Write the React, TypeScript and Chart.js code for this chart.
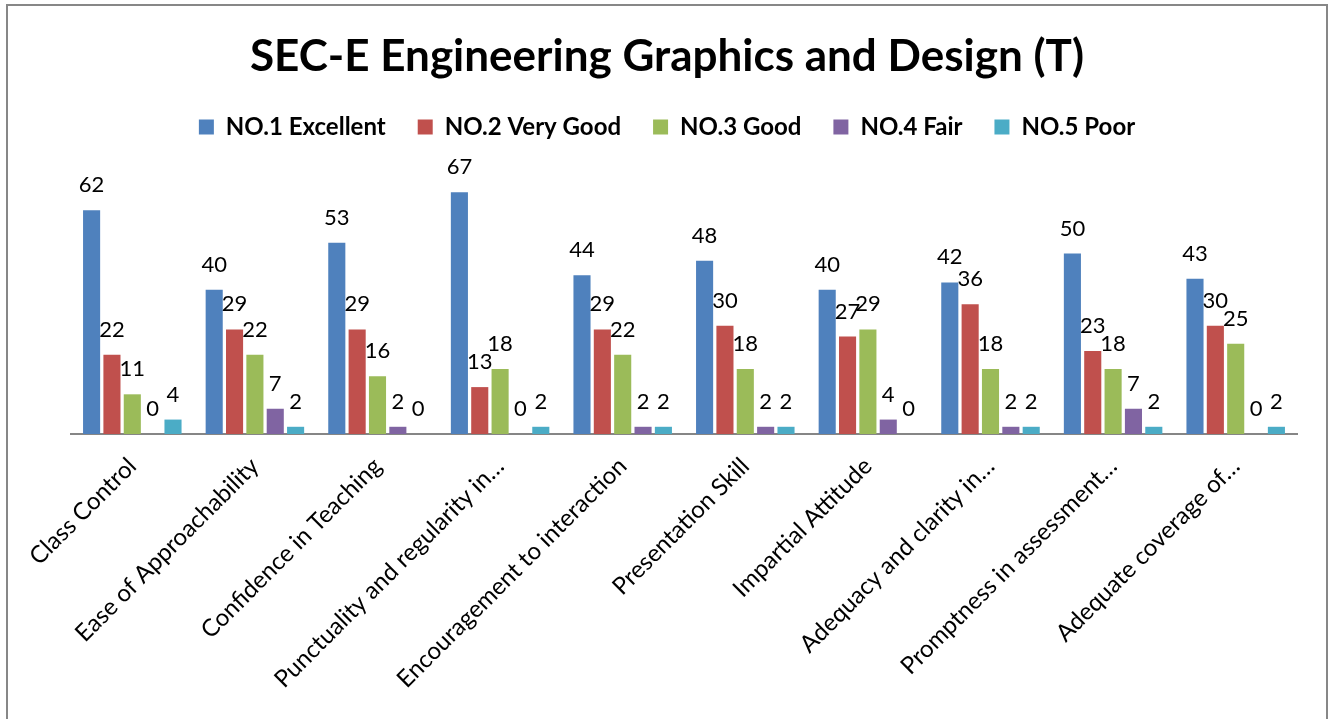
import React, { useEffect, useRef } from "react";
import { Chart, registerables } from "chart.js";

Chart.register(...registerables);

const titleText = "SEC-E Engineering Graphics and Design (T)";

const categories = [
  "Class Control",
  "Ease of Approachability",
  "Confidence in Teaching",
  "Punctuality and regularity in…",
  "Encouragement to interaction",
  "Presentation Skill",
  "Impartial Attitude",
  "Adequacy and clarity in…",
  "Promptness in assessment…",
  "Adequate coverage of…",
];

const seriesNames = [
  "NO.1 Excellent",
  "NO.2 Very Good",
  "NO.3 Good",
  "NO.4 Fair",
  "NO.5 Poor",
];

const excellent = [62, 40, 53, 67, 44, 48, 40, 42, 50, 43];
const veryGood = [22, 29, 29, 13, 29, 30, 27, 36, 23, 30];
const good = [11, 22, 16, 18, 22, 18, 29, 18, 18, 25];
const fair = [0, 7, 2, 0, 2, 2, 4, 2, 7, 0];
const poor = [4, 2, 0, 2, 2, 2, 0, 2, 2, 2];

const seriesColors = ["#4F81BD", "#C0504D", "#9BBB59", "#8064A2", "#4BACC6"];

const FONT = "Lato, 'Open Sans', sans-serif";

const dataLabelPlugin = {
  id: "dataLabels",
  afterDatasetsDraw(chart: any) {
    const ctx = chart.ctx;
    ctx.save();
    ctx.font = `22px ${FONT}`;
    ctx.fillStyle = "#000000";
    ctx.textAlign = "center";
    ctx.textBaseline = "alphabetic";
    chart.data.datasets.forEach((ds: any, di: number) => {
      const meta = chart.getDatasetMeta(di);
      meta.data.forEach((bar: any, i: number) => {
        const v = ds.data[i];
        ctx.fillText(String(v), bar.x, bar.y - 18);
      });
    });
    ctx.restore();
  },
};

export default function App() {
  const canvasRef = useRef<HTMLCanvasElement | null>(null);

  useEffect(() => {
    document.body.style.overflow = "hidden";
    const canvas = canvasRef.current;
    if (!canvas) return;
    const values = [excellent, veryGood, good, fair, poor];
    const chart = new Chart(canvas, {
      type: "bar",
      data: {
        labels: categories,
        datasets: values.map((arr, i) => ({
          label: seriesNames[i],
          data: arr,
          backgroundColor: seriesColors[i],
          borderWidth: 0,
          barPercentage: 0.84,
          categoryPercentage: 0.83,
          yAxisID: "y",
        })),
      },
      options: {
        animation: false,
        responsive: false,
        maintainAspectRatio: false,
        layout: { padding: { left: 0, right: 0, top: 0, bottom: 0 } },
        plugins: {
          title: {
            display: true,
            text: titleText,
            color: "#000000",
            font: { family: FONT, size: 44, weight: "bold", lineHeight: 1.0 },
            padding: { top: 29, bottom: 4 },
          },
          legend: {
            display: true,
            position: "top",
            labels: {
              color: "#000000",
              font: { family: FONT, size: 24, weight: "bold" },
              boxWidth: 15,
              boxHeight: 15,
              padding: 32,
            },
          },
          tooltip: { enabled: false },
        },
        scales: {
          x: {
            grid: { display: false, drawTicks: false },
            border: { display: true, color: "#868686", width: 2 },
            ticks: {
              color: "#000000",
              font: { family: FONT, size: 24 },
              minRotation: 45,
              maxRotation: 45,
              autoSkip: false,
              padding: 18,
            },
            afterFit: (scale: any) => {
              scale.height = 285;
            },
          },
          y: {
            display: true,
            position: "left",
            min: 0,
            max: 79,
            grid: { display: false, drawTicks: false },
            border: { display: false },
            ticks: { display: false },
            afterFit: (scale: any) => {
              scale.width = 63;
            },
          },
          yRight: {
            display: true,
            position: "right",
            min: 0,
            max: 79,
            grid: { display: false, drawTicks: false },
            border: { display: false },
            ticks: { display: false },
            afterFit: (scale: any) => {
              scale.width = 29;
            },
          },
        },
      },
      plugins: [dataLabelPlugin],
    });
    return () => chart.destroy();
  }, []);

  return (
    <div
      style={{
        position: "fixed",
        left: 6,
        top: 4,
        width: 1322,
        height: 715,
        border: "2px solid #878787",
        borderBottom: "none",
        boxSizing: "border-box",
        background: "#ffffff",
      }}
    >
      <canvas ref={canvasRef} width={1318} height={713} style={{ display: "block" }} />
    </div>
  );
}
